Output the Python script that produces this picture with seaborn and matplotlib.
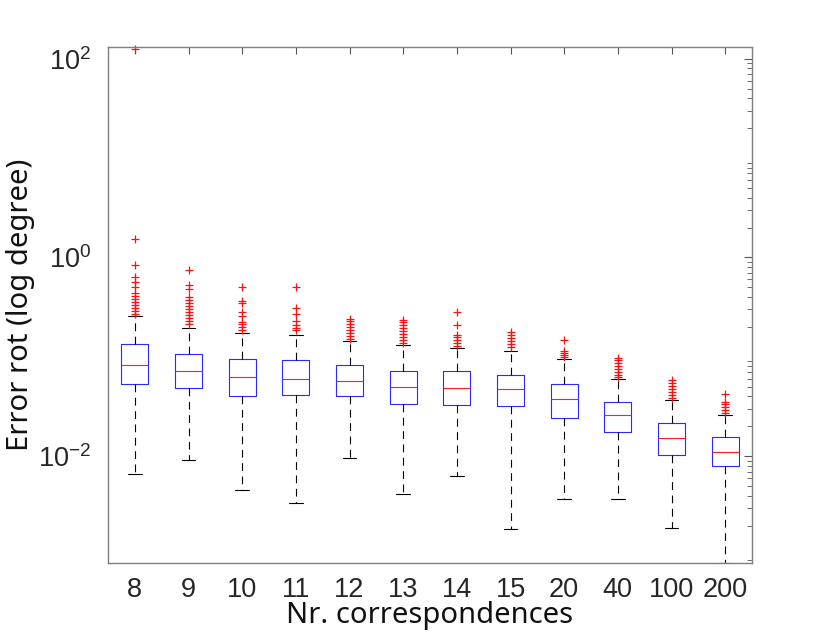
import numpy as np
import matplotlib
matplotlib.use("Agg")
import matplotlib.pyplot as plt
import seaborn as sns
from matplotlib.ticker import LogLocator, NullFormatter

# ---- data ----
categories = ["8", "9", "10", "11", "12", "13", "14", "15", "20", "40", "100", "200"]
whislo = [0.00659, 0.00912, 0.00455, 0.00340, 0.00948, 0.00415, 0.00634, 0.00185, 0.00370, 0.00370, 0.00190, 0.000845]
q1     = [0.0538, 0.0490, 0.0401, 0.0417, 0.0401, 0.0339, 0.0326, 0.0323, 0.0241, 0.0174, 0.01023, 0.00788]
median = [0.0836, 0.0720, 0.0627, 0.0604, 0.0577, 0.0494, 0.0490, 0.0479, 0.0374, 0.0257, 0.0151, 0.01114]
q3     = [0.136, 0.1077, 0.0959, 0.0937, 0.0822, 0.0720, 0.0715, 0.0656, 0.0529, 0.0347, 0.0218, 0.0155]
whishi = [0.255, 0.196, 0.175, 0.167, 0.143, 0.130, 0.124, 0.1154, 0.0959, 0.0604, 0.0368, 0.0260]
outliers = [
    [126.0, 1.52, 0.83, 0.634, 0.565, 0.503, 0.438, 0.406, 0.378, 0.353, 0.330, 0.307, 0.287, 0.268],
    [0.740, 0.523, 0.477, 0.396, 0.370, 0.345, 0.322, 0.300, 0.280, 0.261, 0.244, 0.228, 0.212],
    [0.503, 0.364, 0.345, 0.282, 0.255, 0.224, 0.212, 0.198, 0.185],
    [0.503, 0.312, 0.272, 0.228, 0.207, 0.193, 0.185],
    [0.242, 0.228, 0.212, 0.198, 0.185, 0.172, 0.161, 0.150],
    [0.236, 0.222, 0.207, 0.193, 0.180, 0.168, 0.157, 0.147, 0.137],
    [0.282, 0.211, 0.164, 0.157, 0.147, 0.137, 0.129],
    [0.1775, 0.164, 0.153, 0.143, 0.134, 0.125],
    [0.147, 0.1135, 0.108, 0.1035, 0.0989],
    [0.0982, 0.0922, 0.0861, 0.0803, 0.0749, 0.0699, 0.0652, 0.0622],
    [0.0581, 0.0542, 0.0506, 0.0471, 0.0440, 0.0410, 0.0383],
    [0.0427, 0.0351, 0.0333, 0.0311, 0.0290, 0.0270],
]
xlabel = "Nr. correspondences"
ylabel = "Error rot (log degree)"

sns.set_theme(style="white")
plt.rcParams["font.family"] = ["Liberation Sans", "DejaVu Sans"]
plt.rcParams["mathtext.fontset"] = "custom"
plt.rcParams["mathtext.rm"] = "Liberation Sans"
plt.rcParams["mathtext.it"] = "Liberation Sans:italic"
plt.rcParams["mathtext.bf"] = "Liberation Sans:bold"

fig = plt.figure(figsize=(8.30, 6.33), dpi=100)
ax = fig.add_axes([108 / 830, 1 - 563 / 633, (752 - 108) / 830, (563 - 47) / 633])

stats = []
for i, lab in enumerate(categories):
    stats.append(dict(label=lab, whislo=whislo[i], q1=q1[i], med=median[i],
                      q3=q3[i], whishi=whishi[i], fliers=outliers[i]))

lw = 0.8
positions = np.arange(1, len(categories) + 1)
art = ax.bxp(stats, positions=positions, widths=0.5, showfliers=True,
             boxprops=dict(color="#2a2aff", linewidth=lw),
             medianprops=dict(color="#ff2020", linewidth=lw),
             whiskerprops=dict(color="black", linewidth=lw, linestyle=(0, (7, 5))),
             capprops=dict(color="black", linewidth=lw),
             flierprops=dict(marker="+", markeredgecolor="#ff1010", markerfacecolor="none",
                             markersize=6, markeredgewidth=0.9, linestyle="none"),
             capwidths=0.25)
for f in art["fliers"]:
    f.set_clip_on(False)

ax.set_yscale("log")
ax.set_ylim(10 ** -3.075, 10 ** 2.118)
ax.set_xlim(0.5, len(categories) + 0.5)
ax.set_xticks(positions)
ax.set_xticklabels(categories)
ax.set_yticks([1e-2, 1e0, 1e2])
ax.yaxis.set_minor_locator(LogLocator(base=10, subs=np.arange(2, 10), numticks=20))
ax.yaxis.set_minor_formatter(NullFormatter())

spine_col = "#7f7f7f"
for s in ax.spines.values():
    s.set_color(spine_col)
    s.set_linewidth(1.0)
ax.tick_params(axis="both", which="both", direction="in", top=True, right=True,
               color="#555555", labelcolor="#262626", labelsize=19.5)
ax.tick_params(axis="x", which="major", length=5, width=0.8, pad=10)
ax.tick_params(axis="y", which="major", length=6, width=0.8, pad=12)
ax.tick_params(axis="y", which="minor", length=3.5, width=0.6)
ax.set_facecolor("white")
ax.grid(False)

ax.set_xlabel(xlabel, family=["Noto Sans", "DejaVu Sans"], fontsize=21, color="#111111", labelpad=-1)
ax.set_ylabel(ylabel, family=["Noto Sans", "DejaVu Sans"], fontsize=21, color="#111111", labelpad=2)

fig.savefig("out.png", dpi=100, facecolor="white")
